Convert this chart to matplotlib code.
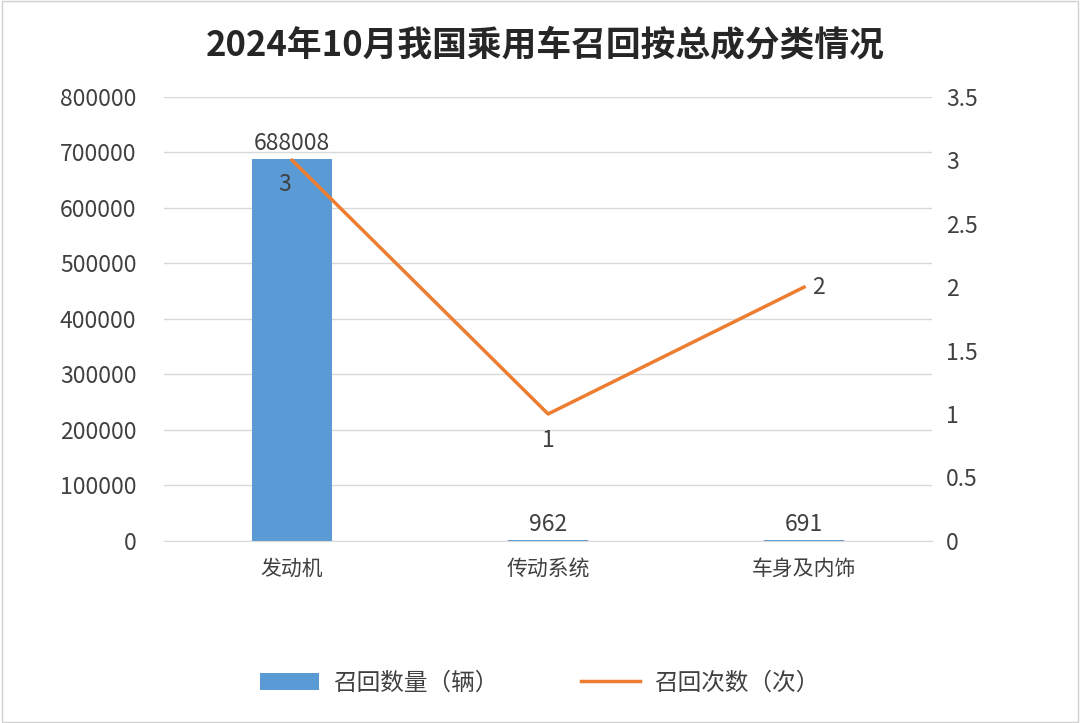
import matplotlib.pyplot as plt
from matplotlib.patches import Rectangle

plt.rcParams['font.family'] = ['Noto Sans CJK SC', 'DejaVu Sans']

categories = ['发动机', '传动系统', '车身及内饰']
recall_qty = [688008, 962, 691]
recall_cnt = [3, 1, 2]

blue = '#5B9BD5'
orange = '#ED7D31'
txt = '#404040'

fig = plt.figure(figsize=(10.8, 7.23), dpi=100)
fig.patches.append(Rectangle((0.002, 0.002), 0.996, 0.996, transform=fig.transFigure,
                             fill=False, edgecolor='#D0D0D0', linewidth=1))
ax = fig.add_axes([0.152, 0.252, 0.711, 0.614])
ax2 = ax.twinx()

x = range(len(categories))
bars = ax.bar(x, recall_qty, width=0.31, color=blue, label='召回数量（辆）', zorder=2)
ax.set_ylim(0, 800000)
ax.set_yticks(range(0, 800001, 100000))
ax.set_xlim(-0.5, 2.5)
ax.set_xticks(list(x))
ax.set_xticklabels(categories, fontsize=15, color=txt)
ax.grid(axis='y', color='#D9D9D9', linewidth=1, zorder=0)
ax.set_axisbelow(True)
for s in ['top', 'left', 'right']:
    ax.spines[s].set_visible(False)
ax.spines['bottom'].set_color('#D9D9D9')
ax.tick_params(axis='y', length=0, labelsize=16.5, labelcolor=txt, pad=20)
ax.tick_params(axis='x', length=0, pad=12)
for i, v in enumerate(recall_qty):
    ax.text(i, v + 8000, str(v), ha='center', va='bottom', fontsize=16.5, color=txt)

line, = ax2.plot(list(x), recall_cnt, color=orange, linewidth=2.5, label='召回次数（次）')
ax2.set_ylim(0, 3.5)
ax2.set_yticks([0, 0.5, 1, 1.5, 2, 2.5, 3, 3.5])
ax2.set_yticklabels(['0', '0.5', '1', '1.5', '2', '2.5', '3', '3.5'])
ax2.tick_params(axis='y', length=0, labelsize=16.5, labelcolor=txt, pad=10)
for s in ax2.spines.values():
    s.set_visible(False)
offs = [(-0.03, -0.1, 'center', 'top'), (0, -0.12, 'center', 'top'), (0.03, 0, 'left', 'center')]
for i, v in enumerate(recall_cnt):
    dx, dy, ha, va = offs[i]
    ax2.text(i + dx, v + dy, str(v), ha=ha, va=va, fontsize=16.5, color=txt)

fig.text(0.505, 0.938, '2024年10月我国乘用车召回按总成分类情况', ha='center', va='center',
         fontsize=25, fontweight='bold', color='#262626')
fig.legend(handles=[bars, line], loc='center', bbox_to_anchor=(0.5, 0.055), ncol=2,
           frameon=False, fontsize=17, labelcolor=txt, columnspacing=3.5,
           handlelength=2.5, handletextpad=0.6)

fig.savefig('out.png', dpi=100)
